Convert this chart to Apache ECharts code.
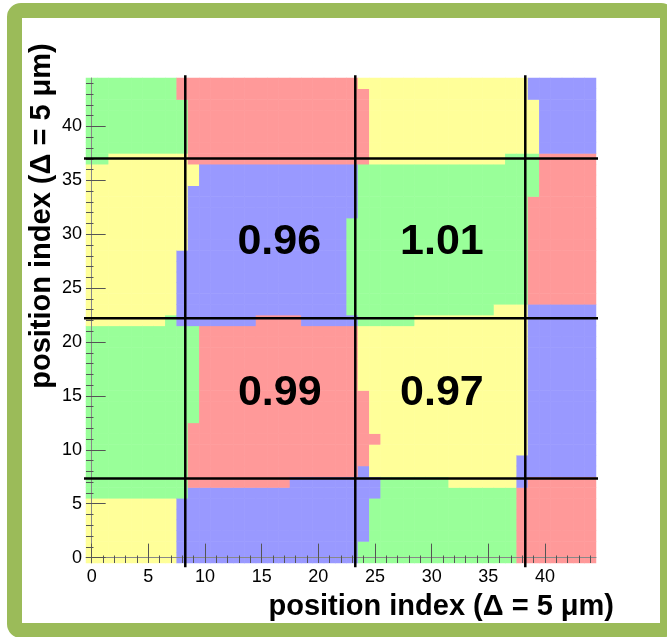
<!DOCTYPE html>
<html><head><meta charset="utf-8">
<script src="https://cdn.jsdelivr.net/npm/echarts@6/dist/echarts.min.js"></script>
<style>
html,body{margin:0;padding:0;background:#fff;overflow:hidden;}
#frame{position:absolute;left:7px;top:3px;width:668px;height:635px;box-sizing:border-box;border:15px solid #9BBB59;border-radius:14px;background:#fff;}
#chart{position:absolute;left:0;top:0;width:667px;height:637px;}
</style></head><body>
<div id="frame"></div><div id="chart"></div>
<script>
// bin indices (position index)
const categories = Array.from({length: 45}, (_, i) => String(i));
// tick labels shown on both axes
const tickLabels = ['0','5','10','15','20','25','30','35','40'];
// colour codes and palette
const colorCodes = ['G','R','Y','B'];
const palette = ['#99FF99','#FF9999','#FFFF99','#9999FF'];
// each column (x = 0..44), runs of colour from y = 0 upward: code + count
const columnRuns = [
  'Y6 G16 Y15 G8',          // 0
  'Y6 G16 Y15 G8',          // 1
  'Y6 G16 Y16 G7',          // 2
  'Y6 G16 Y16 G7',          // 3
  'Y6 G16 Y16 G7',          // 4
  'Y6 G16 Y16 G7',          // 5
  'Y6 G16 Y16 G7',          // 6
  'Y6 G17 Y15 G7',          // 7
  'B6 G16 B7 Y9 G5 R2',     // 8
  'B7 R6 G9 B13 Y2 R8',     // 9
  'B7 R15 B15 R8',          // 10
  'B7 R15 B15 R8',          // 11
  'B7 R15 B15 R8',          // 12
  'B7 R15 B15 R8',          // 13
  'B7 R15 B15 R8',          // 14
  'B7 R16 B14 R8',          // 15
  'B7 R16 B14 R8',          // 16
  'B7 R16 B14 R8',          // 17
  'B8 R15 B14 R8',          // 18
  'B8 R14 B15 R8',          // 19
  'B8 R14 B15 R8',          // 20
  'B8 R14 B15 R8',          // 21
  'B8 R14 B15 R8',          // 22
  'B8 R14 B1 G9 B5 R8',     // 23
  'G2 B7 R7 Y6 G15 R7 Y1',  // 24
  'G6 B2 Y3 R1 Y10 G15 Y8', // 25
  'G8 Y14 G15 Y8',          // 26
  'G8 Y14 G15 Y8',          // 27
  'G8 Y14 G15 Y8',          // 28
  'G8 Y15 G14 Y8',          // 29
  'G8 Y15 G14 Y8',          // 30
  'G8 Y15 G14 Y8',          // 31
  'G7 Y16 G14 Y8',          // 32
  'G7 Y16 G14 Y8',          // 33
  'G7 Y16 G14 Y8',          // 34
  'G7 Y16 G14 Y8',          // 35
  'G7 Y17 G13 Y8',          // 36
  'G7 Y17 G14 Y7',          // 37
  'R7 B3 Y14 G14 Y7',       // 38
  'R8 B16 R10 G4 Y5 B2',    // 39
  'R8 B16 R14 B7',          // 40
  'R8 B16 R14 B7',          // 41
  'R8 B16 R14 B7',          // 42
  'R8 B16 R14 B7',          // 43
  'R8 B16 R14 B7'           // 44
];
// divider lines (data coordinates)
const dividerX = [8.26, 23.26, 38.26];
const dividerY = [7.34, 22.22, 37.04];
const vLineSpan = [-0.9, 44.75];
const hLineSpan = [-0.85, 47.3];
// ratio labels: [x, y, text]
const ratioLabels = [
  [16.55, 29.3, '0.96'],
  [30.9, 29.3, '1.01'],
  [16.6, 15.3, '0.99'],
  [30.9, 15.3, '0.97']
];
const axisTitle = 'position index (\u0394 = 5 \u03bcm)';

const heatData = [];
columnRuns.forEach((runs, x) => {
  let y = 0;
  runs.split(' ').forEach(r => {
    const c = colorCodes.indexOf(r[0]);
    const n = parseInt(r.slice(1), 10);
    for (let k = 0; k < n; k++) { heatData.push([x, y, c]); y++; }
  });
});

const isMajor = (i) => tickLabels.indexOf(categories[i]) >= 0;
const FONT = '"Liberation Sans", Arial, Helvetica, sans-serif';

function catAxis(major, pos) {
  return {
    type: 'category', data: categories, position: pos, boundaryGap: true, z: 5,
    axisLine: {show: major, lineStyle: {color: '#888', width: 1}},
    axisTick: {show: true, inside: true, alignWithLabel: true, length: major ? 14 : 7.5,
      interval: major ? ((i) => isMajor(i)) : 0, lineStyle: {color: '#555', width: 1}},
    axisLabel: {show: major, interval: (i) => isMajor(i), margin: pos === 'bottom' ? 5 : 4,
      fontSize: 18, color: '#000', fontFamily: FONT},
    splitLine: {show: false}
  };
}

const series = [{
  type: 'heatmap', data: heatData, xAxisIndex: 0, yAxisIndex: 0, z: 2,
  emphasis: {disabled: true}, progressive: 0
}];
dividerX.forEach(x => series.push({
  type: 'line', xAxisIndex: 2, yAxisIndex: 2, clip: false, z: 6, symbol: 'none', silent: true,
  data: [[x, vLineSpan[0]], [x, vLineSpan[1]]], lineStyle: {color: '#000', width: 2.5}
}));
dividerY.forEach(y => series.push({
  type: 'line', xAxisIndex: 2, yAxisIndex: 2, clip: false, z: 6, symbol: 'none', silent: true,
  data: [[hLineSpan[0], y], [hLineSpan[1], y]], lineStyle: {color: '#000', width: 2.5}
}));
series.push({
  type: 'scatter', xAxisIndex: 2, yAxisIndex: 2, z: 8, symbolSize: 1, silent: true,
  itemStyle: {color: 'rgba(0,0,0,0)', opacity: 1}, data: ratioLabels,
  emphasis: {disabled: true},
  label: {show: true, position: 'inside', formatter: (p) => p.data[2], opacity: 1,
    fontSize: 43, fontWeight: 'bold', color: '#000', textBorderWidth: 0, fontFamily: FONT}
});

const chart = echarts.init(document.getElementById('chart'), null, {renderer: 'canvas'});
chart.setOption({
  animation: false,
  backgroundColor: 'transparent',
  grid: {left: 86, top: 78, width: 510, height: 485, containLabel: false, outerBoundsMode: 'none'},
  xAxis: [catAxis(true, 'bottom'), catAxis(false, 'bottom'),
    {type: 'value', min: -0.5, max: 44.5, show: false}],
  yAxis: [catAxis(true, 'left'), catAxis(false, 'left'),
    {type: 'value', min: -0.5, max: 44.5, show: false}],
  visualMap: {type: 'piecewise', show: false, dimension: 2, seriesIndex: 0,
    pieces: palette.map((c, i) => ({value: i, color: c}))},
  graphic: [
    {type: 'text', x: 614, y: 607, z: 20,
      style: {text: axisTitle, font: 'bold 29px ' + FONT, align: 'right', verticalAlign: 'middle', fill: '#000'}},
    {type: 'text', x: 42, y: 216, rotation: Math.PI / 2, z: 20,
      style: {text: axisTitle, font: 'bold 29px ' + FONT, align: 'center', verticalAlign: 'middle', fill: '#000'}}
  ],
  series: series
});
</script>
</body></html>
